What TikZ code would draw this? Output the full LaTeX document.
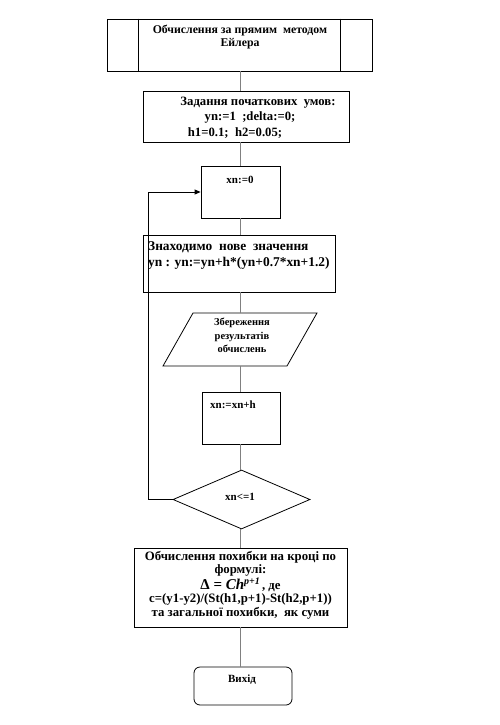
\documentclass[tikz,border=0pt]{standalone}
\usepackage{fontspec}
\setmainfont{Liberation Serif}
\usetikzlibrary{arrows.meta,shapes.geometric}
\begin{document}
\begin{tikzpicture}[x=1pt,y=-1pt,
  box/.style={draw, line width=0.8pt, inner sep=0pt},
  conn/.style={draw=gray, line width=1pt},
  loopline/.style={draw=black, line width=0.8pt, -{Triangle[length=6pt,width=5pt]}},
  txt/.style={font=\bfseries\fontsize{10}{13}\selectfont, align=center, inner sep=0pt},
  bigtxt/.style={font=\bfseries\fontsize{13.4}{16.5}\selectfont, align=left, inner sep=0pt}]
\useasboundingbox (0,0) rectangle (500,725);
% title
\node[box, minimum width=265pt, minimum height=52pt] (t) at (239.5,45) {};
\draw[line width=0.8pt] ([xshift=32pt]t.north west) -- ([xshift=32pt]t.south west);
\draw[line width=0.8pt] ([xshift=-32pt]t.north east) -- ([xshift=-32pt]t.south east);
\node[txt, font=\bfseries\fontsize{11.8}{13}\selectfont] (tt) at (240,37) {Обчислення за прямим\ \ методом\\Ейлера};
% initial conditions
\node[box, minimum width=206pt, minimum height=51pt] (b2) at (246,116.5) {};
\node[txt, font=\bfseries\fontsize{12.7}{15.5}\selectfont] (b2t) at (250,117.5) {\hspace*{16pt}Задання початкових\ \ умов:\\yn:=1\ \ ;delta:=0;\\\hspace*{-30pt}h1=0.1;\ \ h2=0.05;};
% xn:=0
\node[box, minimum width=79pt, minimum height=52pt] (b3) at (240.5,192) {};
\node[txt, font=\bfseries\fontsize{11}{13}\selectfont] (b3t) at (240,180) {xn:=0};
% new value
\node[box, minimum width=192pt, minimum height=57pt] (b4) at (239,263.5) {};
\node[bigtxt, anchor=west] (b4t) at (148,255.5) {Знаходимо\ \ нове\ \ значення\\yn : yn:=yn+h*(yn+0.7*xn+1.2)};
% parallelogram
\draw[line width=0.8pt] (193,313) coordinate (pa) -- (317,313) -- (287,366) -- (163,366) coordinate (pd) -- cycle;
\coordinate (pt) at (240.5,313);
\coordinate (pb) at (240.5,366);
\node[txt, font=\bfseries\fontsize{10.5}{13.5}\selectfont] (pt1) at (242,335.5) {Збереження\\результатів\\обчислень};
% xn:=xn+h
\node[box, minimum width=78pt, minimum height=52pt] (b5) at (241,418) {};
\node[txt, font=\bfseries\fontsize{11}{13}\selectfont, anchor=west] (b5t) at (210,405) {xn:=xn+h};
% decision
\node[draw, line width=0.8pt, shape=diamond, minimum width=137pt, minimum height=59pt, inner sep=0pt] (d) at (241.5,499.5) {};
\node[txt, font=\bfseries\fontsize{11}{13}\selectfont] (dt) at (240,497) {xn<=1};
% error
\node[box, minimum width=213pt, minimum height=79pt] (b6) at (240.5,587.5) {};
\node[txt, font=\bfseries\fontsize{12.8}{13.2}\selectfont] (b6t) at (240.5,585) {Обчислення похибки на кроці по\\формулі:\\[1pt]{\fontsize{15}{15}\selectfont Δ = \textit{Ch}\raisebox{5pt}{\fontsize{10}{10}\selectfont\textit{p+1}}}\,, де\\c=(y1-y2)/(St(h1,p+1)-St(h2,p+1))\\та загальної похибки,\ \ як суми};
% exit
\node[box, rounded corners=6pt, minimum width=98pt, minimum height=38pt] (e) at (243,686) {};
\node[txt, font=\bfseries\fontsize{11}{13}\selectfont] (et) at (242,680) {Вихід};
% connectors
\draw[conn] (t.south -| b3.center) -- (b2.north -| b3.center);
\draw[conn] (b2.south -| b3.center) -- (b3.north);
\draw[conn] (b3.south) -- (b4.north -| b3.center);
\draw[conn] (b4.south -| b3.center) -- (pt);
\draw[conn] (pb) -- (b5.north -| b3.center);
\draw[conn] (b5.south -| b3.center) -- (d.north -| b3.center);
\draw[conn] (d.south -| b3.center) -- (b6.north -| b3.center);
\draw[conn] (b6.south -| b3.center) -- (e.north -| b3.center);
% loop
\draw[loopline] (d.west) -- ++(-24,0) |- (b3.west);
\end{tikzpicture}
\end{document}
